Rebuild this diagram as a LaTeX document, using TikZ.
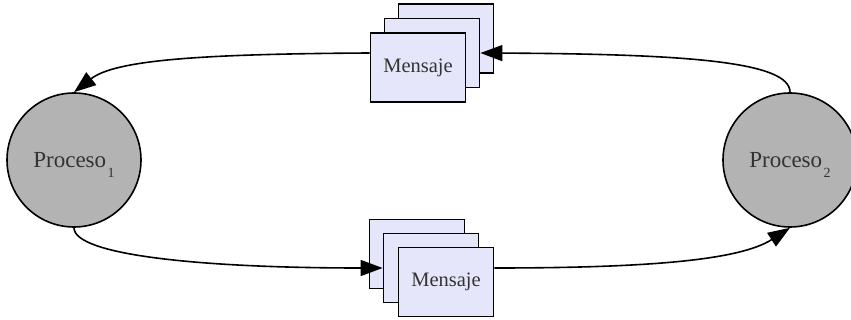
\documentclass[tikz,border=0pt]{standalone}
\usepackage{fontspec}
\setmainfont{Liberation Serif}
\usetikzlibrary{arrows.meta}
\definecolor{procfill}{HTML}{B3B3B3}
\definecolor{msgfill}{HTML}{E6E6FA}
\definecolor{txt}{HTML}{333333}
\tikzset{
  proc/.style={circle, draw=black, line width=1.6pt, fill=procfill,
    minimum size=134pt, inner sep=0pt, text=txt,
    font=\fontsize{23}{26}\selectfont},
  msg/.style={rectangle, draw=black, line width=1.8pt, fill=msgfill,
    minimum width=95pt, minimum height=69pt, inner sep=0pt, text=txt,
    font=\fontsize{20.5}{24}\selectfont},
  flow/.style={line width=1.6pt, -{Triangle[length=22pt,width=16pt]}},
}
% lowered index after a process name
\newcommand{\sub}[1]{\hspace{1.5pt}\raisebox{-10pt}[0pt][0pt]{\fontsize{14}{15}\selectfont #1}}
\begin{document}
\begin{tikzpicture}[x=1pt, y=-1pt]
  \useasboundingbox (0,0) rectangle (851,320);
  % processes
  \node[proc] (p1) at (74,160) {Proceso\sub{1}};
  \node[proc] (p2) at (790,160) {Proceso\sub{2}};
  % upper message stack, back to front
  \node[msg] (mt1) at (446,38.5) {};
  \node[msg] (mt2) at (432,53) {};
  \node[msg] (mt3) at (418,67.5) {Mensaje};
  % lower message stack, back to front
  \node[msg] (mb1) at (417,254) {};
  \node[msg] (mb2) at (431,268) {};
  \node[msg] (mb3) at (446,282) {Mensaje};
  % channel from process 2 to process 1
  \draw[flow] (p2.north) .. controls (790,62) and (690,54) .. (mt2.east);
  \draw[flow] (mt3.west |- mt2.east) .. controls (200,54) and (115,60) .. (p1.north);
  % channel from process 1 to process 2
  \draw[flow] (p1.south) .. controls (74,255) and (200,268) .. (mb2.west);
  \draw[flow] (mb3.east |- mb2.west) .. controls (650,268) and (740,260) .. (p2.south);
\end{tikzpicture}
\end{document}
